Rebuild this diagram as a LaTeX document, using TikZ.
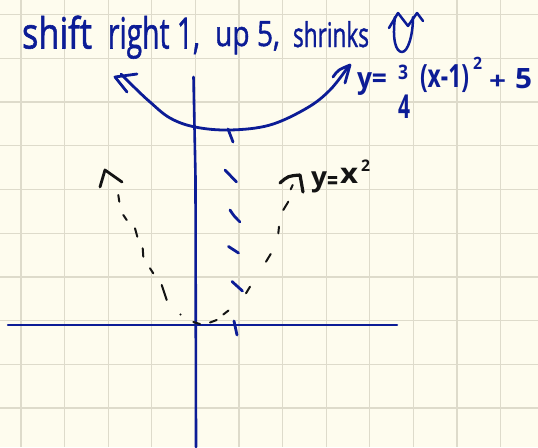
\documentclass[tikz,border=0pt]{standalone}
\usepackage{fontspec}
\setmainfont{Open Sans}
\newfontfamily\titlefont{Open Sans}[FakeBold=1.4]
\usepackage{graphicx}
\definecolor{paper}{RGB}{254,252,238}
\definecolor{gridc}{RGB}{222,219,203}
\definecolor{ink}{RGB}{12,28,150}
\definecolor{pencil}{RGB}{20,20,20}
\newcommand\handtxt[3]{\resizebox{#1}{\height}{\fontsize{#2}{#2}\selectfont #3}}
\begin{document}
\begin{tikzpicture}[x=1pt,y=-1pt,
  inkline/.style={draw=ink,line width=2.8pt,line cap=round,line join=round},
  pen/.style={draw=pencil,line width=2pt,line cap=round,line join=round},
  gridline/.style={draw=gridc,line width=1.3pt},
  hand/.style={inner sep=0pt,outer sep=0pt,anchor=base west,text=ink,font=\titlefont},
  handb/.style={inner sep=0pt,outer sep=0pt,anchor=base west,text=ink,font=\bfseries},
  handk/.style={inner sep=0pt,outer sep=0pt,anchor=base west,text=pencil,font=\bfseries}]
\fill[paper] (0,0) rectangle (538,447);
\useasboundingbox (0,0) rectangle (538,447);
% grid
\foreach \i in {0,...,11} \draw[gridline] ({21+43.6*\i},0) -- ({21+43.6*\i},447);
\foreach \j in {0,...,9} \draw[gridline] (0,{14.7+43.7*\j}) -- (538,{14.7+43.7*\j});
% axes
\draw[inkline,line width=2.5pt] (8,325) -- (397,325);
\draw[inkline,line width=2.6pt] (193.5,77) -- (195.5,178) -- (196,447);
% title
\node[hand] (t1) at (22,48.5) {\handtxt{70pt}{43pt}{shift}};
\node[hand] (t2) at (108,48.5) {\handtxt{92pt}{43pt}{right 1,}};
\node[hand] (t3) at (215,46) {\handtxt{65pt}{35pt}{up 5,}};
\node[hand] (t4) at (293,47) {\handtxt{76pt}{34pt}{shrinks}};
% small parabola symbol
\draw[inkline,line width=2.5pt] (389,28) -- (398,13) -- (408,26) -- (417,13) -- (423,21);
\draw[inkline,line width=2.5pt] (395,17) .. controls (392,40) and (396,52) .. (402,52) .. controls (408,52) and (413,35) .. (413,17);
% blue parabola
\draw[inkline] plot[smooth,tension=0.6] coordinates {(121,74) (135,88) (150,102) (170,118) (195,127) (230,130) (270,125) (307,108) (330,90) (348,67)};
\draw[inkline] (137,74) -- (115,77) -- (127,92);
\draw[inkline] (333,77) .. controls (338,70) .. (350,65) -- (345,83);
% equation
\node[handb] (e1) at (357,88) {\handtxt{30pt}{29pt}{y=}};
\node[handb] (e2) at (398,79) {\handtxt{10pt}{20pt}{3}};
\node[handb] (e3) at (398,118) {\handtxt{12pt}{33pt}{4}};
\node[handb] (e4) at (420,87.5) {\handtxt{49pt}{32pt}{(x-1)}};
\node[handb] (e5) at (473,69) {\handtxt{9pt}{17pt}{2}};
\node[handb] (e6) at (489,89) {\handtxt{17pt}{24pt}{+}};
\node[handb] (e7) at (515,88) {\handtxt{17pt}{28pt}{5}};
% axis of symmetry (blue dashes)
\draw[inkline] (228,129) -- (233,142);
\draw[inkline] (225,170) -- (236.5,182);
\draw[inkline] (230,210) .. controls (234,216) .. (240,222);
\draw[inkline] (228.5,246.5) -- (238.5,253);
\draw[inkline] (232,281.5) -- (242.5,291);
\draw[inkline] (234,321) -- (237,335);
% black dashed y=x^2
\draw[pen] (118.3,195) -- (119.3,201.7);
\draw[pen] (123.3,215) -- (126.7,220);
\draw[pen] (135,228.3) -- (137.3,236.7);
\draw[pen] (142.7,248.3) -- (143.3,256.7);
\draw[pen] (150,268.3) -- (153.3,273.3);
\draw[pen] (161.7,285) -- (166.7,300);
\fill[pencil] (180.5,314.5) circle (1.2pt);
\draw[pen] (193.3,322) -- (200,324);
\draw[pen] (210,322.5) -- (216.7,320);
\draw[pen] (223.3,314.5) -- (228.5,310.5);
\draw[pen] (246,293.3) -- (250,286.7);
\draw[pen] (266,261.7) -- (270.7,254);
\draw[pen] (278.3,233.3) -- (279,226.7);
\draw[pen] (283.3,210) -- (288.3,201.7);
\draw[pen] (290.7,189.3) -- (292.7,185);
\draw[pen,line width=2.8pt] (100,187) -- (105,170) -- (122,182);
\draw[pen,line width=3.2pt] (280,183) .. controls (288,176) .. (300,175) -- (303,192);
% label y=x^2
\node[handk] (k1) at (311,186) {\handtxt{16pt}{27pt}{y}};
\node[handk] (k2) at (327,190) {\handtxt{11pt}{28pt}{=}};
\node[handk] (k3) at (340,183) {\handtxt{18pt}{28pt}{x}};
\node[handk] (k4) at (361,171) {\handtxt{9pt}{16pt}{2}};
\end{tikzpicture}
\end{document}
